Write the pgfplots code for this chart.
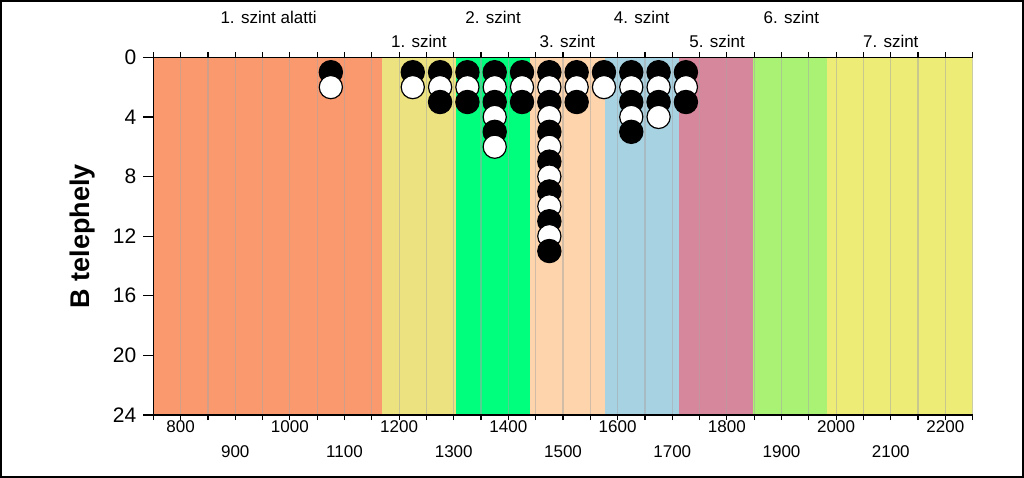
\documentclass[border=0pt]{standalone}
\usepackage{fontspec}
\setmainfont{Liberation Sans}
\usepackage{pgfplots}
\pgfplotsset{compat=1.18}
\usepackage{pgfplotstable}

\definecolor{bandA}{RGB}{250,152,110}
\definecolor{bandB}{RGB}{236,226,128}
\definecolor{bandC}{RGB}{0,255,124}
\definecolor{bandD}{RGB}{253,212,172}
\definecolor{bandE}{RGB}{167,210,225}
\definecolor{bandF}{RGB}{215,135,155}
\definecolor{bandG}{RGB}{170,242,115}
\definecolor{bandH}{RGB}{236,236,118}

% dots, top row first so lower dots overlap the ones above
\pgfplotstableread{
x y c
1075 1 b
1225 1 b
1275 1 b
1325 1 b
1375 1 b
1425 1 b
1475 1 b
1525 1 b
1575 1 b
1625 1 b
1675 1 b
1725 1 b
1075 2 w
1225 2 w
1275 2 w
1325 2 w
1375 2 w
1425 2 w
1475 2 w
1525 2 w
1575 2 w
1625 2 w
1675 2 w
1725 2 w
1275 3 b
1325 3 b
1375 3 b
1425 3 b
1475 3 b
1525 3 b
1625 3 b
1675 3 b
1725 3 b
1375 4 w
1475 4 w
1625 4 w
1675 4 w
1375 5 b
1475 5 b
1625 5 b
1375 6 w
1475 6 w
1475 7 b
1475 8 w
1475 9 b
1475 10 w
1475 11 b
1475 12 w
1475 13 b
}\dots

\pgfplotsset{
  frame/.style={scale only axis, width=409.7bp, height=178.85bp,
    at={(76.65bp,31.5bp)}, anchor=south west,
    xmin=750, xmax=2250, ymin=0, ymax=24, y dir=reverse,
    enlargelimits=false},
  /pgf/number format/assume math mode=true,
  /pgf/number format/1000 sep={},
}

\begin{document}
\begin{tikzpicture}
\useasboundingbox (0,0) rectangle (512bp,239bp);
\draw[line width=1.2bp] (0.6bp,0.6bp) rectangle (511.4bp,238.4bp);

% coloured bands
\begin{axis}[frame, hide axis]
\addplot[draw=none, fill=bandA] coordinates {(750,24) (1168,24)} \closedcycle;
\addplot[draw=none, fill=bandB] coordinates {(1168,24) (1304,24)} \closedcycle;
\addplot[draw=none, fill=bandC] coordinates {(1304,24) (1440,24)} \closedcycle;
\addplot[draw=none, fill=bandD] coordinates {(1440,24) (1576,24)} \closedcycle;
\addplot[draw=none, fill=bandE] coordinates {(1576,24) (1712,24)} \closedcycle;
\addplot[draw=none, fill=bandF] coordinates {(1712,24) (1848,24)} \closedcycle;
\addplot[draw=none, fill=bandG] coordinates {(1848,24) (1984,24)} \closedcycle;
\addplot[draw=none, fill=bandH] coordinates {(1984,24) (2250,24)} \closedcycle;
\end{axis}

% grid, dots, y axis
\begin{axis}[frame,
  axis line style={draw=none},
  xtick={750,800,...,2250}, xticklabels={}, xtick style={draw=none},
  xmajorgrids, major grid style={draw=gray!70, opacity=0.5, line width=0.6bp},
  ytick={0,4,...,24}, ytick pos=left, tick align=outside,
  major tick length=5bp,
  ytick style={line width=0.6bp, black},
  yticklabel style={font=\fontsize{10.5bp}{12bp}\selectfont},
  ylabel={B telephely},
  ylabel style={font=\bfseries\fontsize{13.5bp}{16bp}\selectfont,
    at={(axis description cs:-0.0869,0.5)}, anchor=center},
]
\addplot[scatter, only marks, scatter src=explicit symbolic,
  scatter/classes={
    b={mark=*, draw=black, fill=black},
    w={mark=*, draw=black, fill=white}},
  mark size=5.8bp, mark options={line width=0.6bp}]
  table[x=x, y=y, meta=c] {\dots};
\end{axis}

% frame lines and x tick marks
\begin{axis}[frame,
  axis x line=box, axis y line=left, axis line style={-, line width=0.7bp},
  xtick={750,800,...,2250}, xticklabels={}, ytick=\empty,
  tick align=outside, major tick length=2.5bp,
  xtick style={line width=0.6bp, black},
]
\end{axis}

% bottom labels
\begin{axis}[frame,
  axis line style={draw=none}, ytick=\empty, major tick length=0pt,
  xtick={800,1000,...,2200}, xtick style={draw=none},
  xticklabel style={font=\fontsize{8.5bp}{10bp}\selectfont, anchor=center, yshift=-5.85bp},
  extra x ticks={900,1100,...,2100},
  extra x tick style={grid=none, xticklabel style={yshift=-12.5bp}},
]
\end{axis}

% level labels on top
\begin{axis}[frame,
  axis line style={draw=none}, ytick=\empty, major tick length=0pt,
  xticklabel pos=upper, xtick style={draw=none},
  xtick={961,1372,1644,1918},
  xticklabels={1. szint alatti, 2. szint, 4. szint, 6. szint},
  xticklabel style={font=\fontsize{8.5bp}{10bp}\selectfont, anchor=center, yshift=20.15bp},
  extra x ticks={1236,1508,1782,2100},
  extra x tick labels={1. szint, 3. szint, 5. szint, 7. szint},
  extra x tick style={grid=none, xticklabel pos=upper, xticklabel style={yshift=-12bp}},
]
\end{axis}
\end{tikzpicture}
\end{document}
